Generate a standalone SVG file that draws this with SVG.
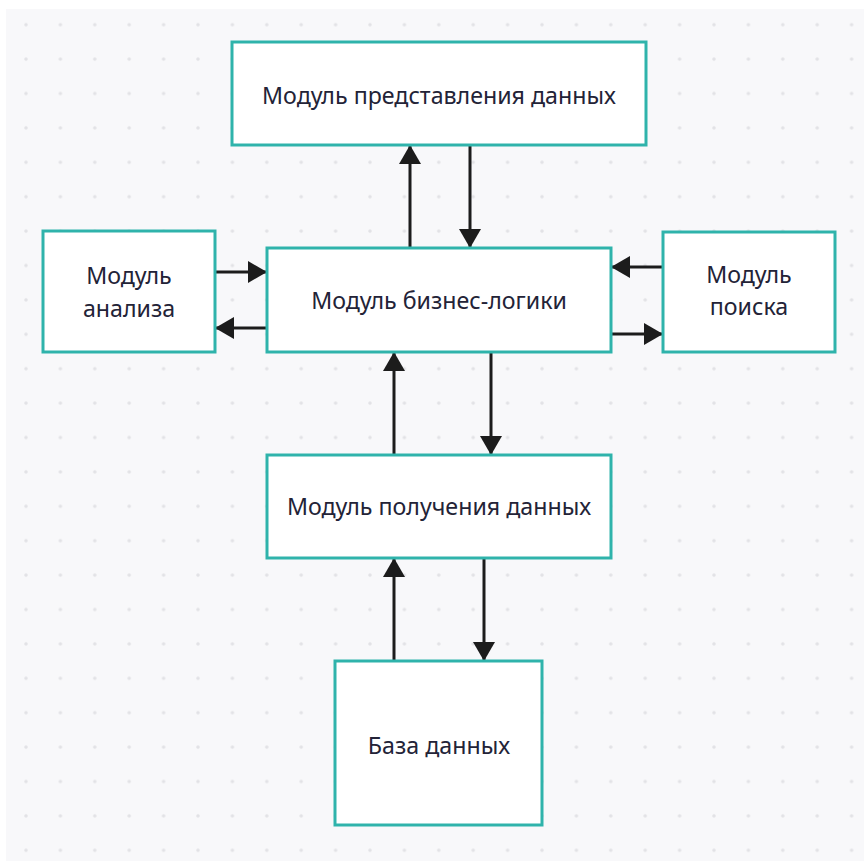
<svg xmlns="http://www.w3.org/2000/svg" width="864" height="861" viewBox="0 0 864 861">
  <defs>
    <pattern id="dots" x="26" y="24.7" width="34.4" height="34.4" patternUnits="userSpaceOnUse">
      <circle cx="0" cy="0" r="1.8" fill="#e2e2e6"/>
      <circle cx="34.4" cy="0" r="1.8" fill="#e2e2e6"/>
      <circle cx="0" cy="34.4" r="1.8" fill="#e2e2e6"/>
      <circle cx="34.4" cy="34.4" r="1.8" fill="#e2e2e6"/>
    </pattern>
    <marker id="arrow" viewBox="0 0 19 22" refX="19" refY="11" markerWidth="19" markerHeight="22" markerUnits="userSpaceOnUse" orient="auto">
      <path d="M0,0 L19,11 L0,22 Z" fill="#1c1c1c"/>
    </marker>
    <style>
      .box { fill: #ffffff; stroke: #2fb3ab; stroke-width: 3; }
      .label { font-family: "Noto Sans", "Open Sans", sans-serif; font-size: 23.2px; fill: #232337; text-anchor: middle; }
      .link { stroke: #1c1c1c; stroke-width: 3; fill: none; marker-end: url(#arrow); }
    </style>
  </defs>

  <rect x="0" y="0" width="864" height="861" fill="#ffffff"/>
  <rect x="6" y="9" width="858" height="852" fill="#f8f8fa"/>
  <rect x="6" y="9" width="858" height="852" fill="url(#dots)"/>

  <g id="connectors">
    <line class="link" x1="410" y1="248" x2="410" y2="145"/>
    <line class="link" x1="470" y1="145" x2="470" y2="248"/>
    <line class="link" x1="215" y1="272" x2="267" y2="272"/>
    <line class="link" x1="267" y1="328" x2="215" y2="328"/>
    <line class="link" x1="663" y1="267" x2="611" y2="267"/>
    <line class="link" x1="611" y1="334" x2="663" y2="334"/>
    <line class="link" x1="394" y1="455" x2="394" y2="352"/>
    <line class="link" x1="491" y1="352" x2="491" y2="455"/>
    <line class="link" x1="394" y1="661" x2="394" y2="558"/>
    <line class="link" x1="484" y1="558" x2="484" y2="661"/>
  </g>

  <g id="presentation">
    <rect class="box" x="232" y="42" width="414" height="103"/>
    <text class="label" x="439" y="104">Модуль представления данных</text>
  </g>

  <g id="business">
    <rect class="box" x="267" y="248" width="344" height="104"/>
    <text class="label" x="439" y="309">Модуль бизнес-логики</text>
  </g>

  <g id="analysis">
    <rect class="box" x="43" y="231" width="172" height="121"/>
    <text class="label" x="129" y="284">Модуль</text>
    <text class="label" x="129" y="317">анализа</text>
  </g>

  <g id="search">
    <rect class="box" x="663" y="232" width="172" height="120"/>
    <text class="label" x="749" y="283">Модуль</text>
    <text class="label" x="749" y="315">поиска</text>
  </g>

  <g id="retrieval">
    <rect class="box" x="267" y="455" width="344" height="103"/>
    <text class="label" x="439" y="515">Модуль получения данных</text>
  </g>

  <g id="database">
    <rect class="box" x="335" y="661" width="207" height="164"/>
    <text class="label" x="439" y="754">База данных</text>
  </g>
</svg>
